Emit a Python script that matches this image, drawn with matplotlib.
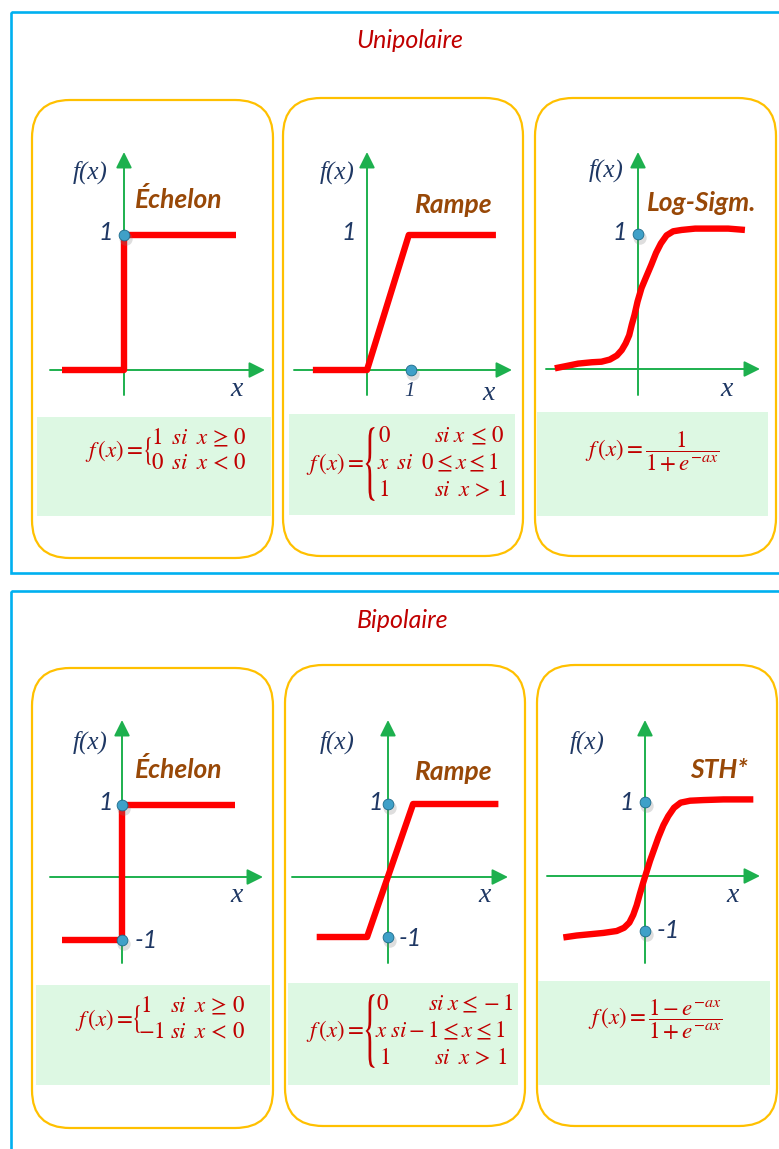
import matplotlib
matplotlib.use('Agg')
import matplotlib.pyplot as plt
from matplotlib.patches import FancyBboxPatch, Rectangle, PathPatch
from matplotlib.textpath import TextPath
from matplotlib.font_manager import FontProperties
from matplotlib.transforms import Affine2D, offset_copy

plt.rcParams['mathtext.fontset'] = 'stix'

W, H = 779, 1149

# ---- values ----
titles = ['Unipolaire', 'Bipolaire']
names = ['Échelon', 'Rampe', 'Log-Sigm.', 'Échelon', 'Rampe', 'STH*']

step_uni_x = [-1.41, 0, 0, 2.55]
step_uni_y = [0, 0, 1, 1]
ramp_uni_x = [-1.23, 0, 0.95, 2.93]
ramp_uni_y = [0, 0, 1, 1]
sig_x = [-1.89, -1.66, -1.36, -1.05, -0.83, -0.64, -0.48, -0.37, -0.28, -0.20, -0.14, -0.08,
         -0.01, 0.08, 0.17, 0.30, 0.41, 0.52, 0.65, 0.80, 0.99, 1.30, 1.68, 2.05, 2.43]
sig_y = [0.005, 0.02, 0.04, 0.05, 0.054, 0.07, 0.10, 0.14, 0.19, 0.25, 0.33, 0.40,
         0.50, 0.60, 0.67, 0.77, 0.86, 0.93, 0.99, 1.02, 1.03, 1.04, 1.04, 1.04, 1.03]

step_bi_x = [-2.61, 0, 0, 4.91]
step_bi_y = [-1, -1, 1, 1]
ramp_bi_x = [-3.1, -0.91, 1.09, 4.8]
ramp_bi_y = [-1, -1, 1, 1]
tanh_x = [-3.55, -2.97, -2.39, -1.81, -1.23, -0.91, -0.68, -0.51, -0.36, -0.22, -0.07, 0.07,
          0.22, 0.39, 0.58, 0.80, 1.01, 1.26, 1.55, 1.96, 2.54, 3.41, 4.71]
tanh_y = [-1.10, -1.07, -1.05, -1.03, -1.0, -0.95, -0.87, -0.75, -0.60, -0.42, -0.24, -0.08,
          0.09, 0.26, 0.45, 0.64, 0.78, 0.91, 0.99, 1.02, 1.03, 1.04, 1.04]

curves = [(step_uni_x, step_uni_y), (ramp_uni_x, ramp_uni_y), (sig_x, sig_y),
          (step_bi_x, step_bi_y), (ramp_bi_x, ramp_bi_y), (tanh_x, tanh_y)]
dots = [([0], [1]), ([1], [0]), ([0], [1]),
        ([0, 0], [1, -1]), ([0, 0], [1, -1]), ([0, 0], [1, -1])]

# layout (pixels): origin of each small graph and px per unit
graphs = [(124, 370, 44, 135), (367, 370, 44, 135), (638, 369, 44, 135),
          (122, 872.5, 23, 67.5), (388, 870.5, 23, 66.5), (645, 866.5, 23, 64.5)]
xaxes = [(50, 265, 370), (294, 512, 370), (546, 760, 369),
         (50, 263, 877), (292, 508, 877), (547, 760, 876)]
yaxes = [(124, 395, 152), (367, 395, 152), (638, 395, 152),
         (122, 963, 720), (388, 963, 720), (645, 963, 720)]
panels = [(32, 100, 273, 558), (283, 98, 523, 556), (535, 98, 776, 556),
          (32, 668, 273, 1128), (285, 665, 525, 1126), (537, 665, 777, 1126)]
boxes = [(37, 417, 271, 516), (289, 414, 515, 515), (537, 412, 768, 516),
         (36, 985, 270, 1085), (288, 983, 518, 1085), (538, 981, 770, 1085)]

BLUE = '#00B0F0'
ORANGE = '#FFC000'
GBOX = '#DDF8E3'
AXG = '#1DB04E'
RED = '#FF0000'
NAVY = '#1F3864'
BROWN = '#984807'
DRED = '#C00000'

fig = plt.figure(figsize=(W / 100, H / 100), dpi=100)
bg = fig.add_axes([0, 0, 1, 1])
bg.set_xlim(0, W)
bg.set_ylim(H, 0)
bg.axis('off')

# blue frames
bg.add_patch(Rectangle((11, 12), 800, 561, fill=False, ec=BLUE, lw=1.9))
bg.add_patch(Rectangle((11, 591), 800, 620, fill=False, ec=BLUE, lw=1.9))
bg.text(410, 40, titles[0], ha='center', va='center', fontsize=18,
        style='italic', color=DRED, family='Lato')
bg.text(403, 620, titles[1], ha='center', va='center', fontsize=18,
        style='italic', color=DRED, family='Lato')

for (x0, y0, x1, y1) in panels:
    bg.add_patch(FancyBboxPatch((x0, y0), x1 - x0, y1 - y0,
                                boxstyle='round,pad=0,rounding_size=38',
                                fc='white', ec=ORANGE, lw=1.6))
for (x0, y0, x1, y1) in boxes:
    bg.add_patch(Rectangle((x0, y0), x1 - x0, y1 - y0, fc=GBOX, ec='none'))

# green axes with arrow heads
for (xa, xb, yy), (xx, ya, yb) in zip(xaxes, yaxes):
    for s, e in [((xa, yy), (xb, yy)), ((xx, ya), (xx, yb))]:
        bg.annotate('', xy=e, xytext=s,
                    arrowprops=dict(arrowstyle='-|>', color=AXG, lw=1.4,
                                    mutation_scale=24, shrinkA=0, shrinkB=0))

# the curves, each in its own data axes laid over the whole figure
for (cx, cy), (dx, dy), (ox, oy, sx, sy) in zip(curves, dots, graphs):
    ax = fig.add_axes([0, 0, 1, 1])
    ax.set_xlim(-ox / sx, (W - ox) / sx)
    ax.set_ylim((oy - H) / sy, oy / sy)
    ax.axis('off')
    ax.plot(cx, cy, color=RED, lw=4.6, solid_joinstyle='round',
            solid_capstyle='butt', zorder=3)
    # soft shadow under the dots
    sh = offset_copy(ax.transData, fig=fig, x=1.5, y=-3, units='points')
    ax.scatter(dx, dy, s=90, c='#7F7F7F', alpha=0.25, edgecolors='none',
               transform=sh, zorder=4)
    ax.scatter(dx, dy, s=60, c='#3FA0C8', edgecolors='#1B6A8A',
               linewidths=0.6, zorder=5)

# labels of each graph
lab = dict(color=NAVY, ha='center', va='center')
fx_pos = [(90, 172), (337, 172), (606, 170), (90, 742), (337, 742), (587, 742)]
x_pos = [(237, 390), (489, 393), (727, 390), (237, 895), (485, 895), (733, 895)]
one_pos = [(106, 232), (349, 233), (620, 232), (106, 802), (376, 802), (627, 802)]
m1_pos = [None, None, None, (146, 940), (410, 938), (668, 930)]
name_pos = [(135, 200), (415, 205), (647, 203), (135, 770), (415, 772), (690, 770)]
for i in range(6):
    bg.text(*fx_pos[i], 'f(x)', fontsize=18, style='italic',
            family='Liberation Serif', **lab)
    bg.text(*x_pos[i], 'x', fontsize=20, style='italic',
            family='Liberation Serif', **lab)
    bg.text(*one_pos[i], '1', fontsize=18, style='italic', family='Lato', **lab)
    if m1_pos[i]:
        bg.text(*m1_pos[i], '-1', fontsize=18, style='italic', family='Lato', **lab)
    bg.text(*name_pos[i], names[i], fontsize=19, style='italic',
            fontweight='bold', family='Lato', color=BROWN, ha='left', va='center')
bg.text(410, 392, '1', fontsize=15, style='italic', family='Liberation Serif', **lab)


def brace(xc, yc, h, w):
    # thin left brace stretched to height h (pixels)
    tp = TextPath((0, 0), '{', size=1, prop=FontProperties(family='STIXGeneral'))
    ext = tp.get_extents()
    tr = (Affine2D().translate(-(ext.x0 + ext.x1) / 2, -(ext.y0 + ext.y1) / 2)
          .scale(w / ext.width, -h / ext.height).translate(xc, yc))
    bg.add_patch(PathPatch(tr.transform_path(tp), fc=DRED, ec='none'))


# formulas
fm = dict(color=DRED, fontsize=16.5, va='center')

bg.text(143, 451, r'$f\,(x) =$', ha='right', **fm)
brace(148, 451, 28, 6)
bg.text(151, 438, r'$1\;\;si\;\;x\,\geq\,0$', ha='left', **fm)
bg.text(151, 463, r'$0\;\;si\;\;x\,<\,0$', ha='left', **fm)

bg.text(364, 464, r'$f\,(x) =$', ha='right', **fm)
brace(370, 464, 74, 9)
bg.text(378, 436, r'$0$', ha='left', **fm)
bg.text(505, 436, r'$si\;x\,\leq\,0$', ha='right', **fm)
bg.text(377, 463, r'$x\;\;si\;\;0\leq x\leq 1$', ha='left', **fm)
bg.text(378, 490, r'$1$', ha='left', **fm)
bg.text(507, 490, r'$si\;\;x\,>\,1$', ha='right', **fm)

bg.text(652, 452, r'$f\,(x) = \dfrac{1}{1+e^{-ax}}$', ha='center', **fm)

bg.text(133, 1020, r'$f\,(x) =$', ha='right', **fm)
brace(137, 1019, 28, 6)
bg.text(140, 1006, r'$1$', ha='left', **fm)
bg.text(170, 1006, r'$si\;\;x\,\geq\,0$', ha='left', **fm)
bg.text(138, 1032, r'$-1$', ha='left', **fm)
bg.text(170, 1032, r'$si\;\;x\,<\,0$', ha='left', **fm)

bg.text(364, 1031, r'$f\,(x) =$', ha='right', **fm)
brace(370, 1031, 74, 9)
bg.text(376, 1004, r'$0$', ha='left', **fm)
bg.text(514, 1004, r'$si\;x\leq -1$', ha='right', **fm)
bg.text(375, 1031, r'$x\;si-1\leq x\leq 1$', ha='left', **fm)
bg.text(379, 1058, r'$1$', ha='left', **fm)
bg.text(507, 1058, r'$si\;\;x\,>\,1$', ha='right', **fm)

bg.text(655, 1020, r'$f\,(x) = \dfrac{1-e^{-ax}}{1+e^{-ax}}$', ha='center', **fm)

fig.savefig('out.png', dpi=100)
